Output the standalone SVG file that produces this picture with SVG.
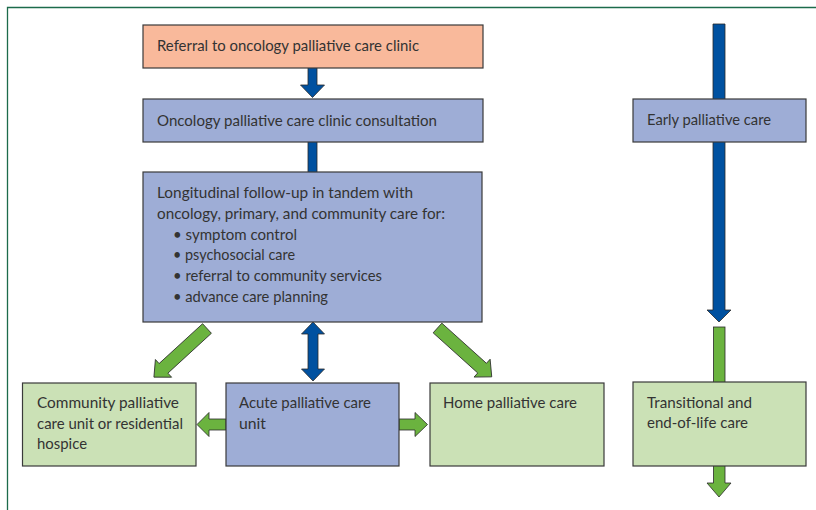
<svg xmlns="http://www.w3.org/2000/svg" width="816" height="510" viewBox="0 0 816 510">
<style>
.box{stroke:#3a3a3a;stroke-width:1.2}
.peach{fill:#F9B99B}
.blue{fill:#9EADD6}
.green{fill:#CBE1B6}
.ab{fill:#0051A0;stroke:#2a2a2a;stroke-width:0.8}
.ag{fill:#6BB33F;stroke:#2a2a2a;stroke-width:0.8}
text{font-family:Lato,"Open Sans","Liberation Sans",sans-serif;font-size:15px;fill:#333333}
</style>
<rect width="816" height="510" fill="#ffffff"/>
<path d="M7.5,510 V7.5 H816" fill="none" stroke="#1C6B4B" stroke-width="1.3"/>
<g id="connectors">
<polygon class="ab" points="308,67 317,67 317,85 324.5,85 312.5,97.5 300.5,85 308,85"/>
<rect class="ab" x="308" y="141" width="9" height="32"/>
<polygon class="ab" points="313,322 324.5,334 318,334 318,369 324.5,369 313,381 301.5,369 308,369 308,334 301.5,334"/>
<polygon class="ag" transform="translate(207,328.5) rotate(137.5)" points="0,-6.5 59,-6.5 59,-12 72,0 59,12 59,6.5 0,6.5"/>
<polygon class="ag" transform="translate(437.5,328) rotate(42)" points="0,-6.5 60,-6.5 60,-12 73,0 60,12 60,6.5 0,6.5"/>
<polygon class="ag" points="226,419 209,419 209,412.5 197,424.5 209,436.5 209,430 226,430"/>
<polygon class="ag" points="399,419 415,419 415,412.5 427.5,424.5 415,436.5 415,430 399,430"/>
<polygon class="ab" points="713,24 725,24 725,310 731,310 719,322 707,310 713,310"/>
<rect class="ag" x="713.5" y="327" width="11.5" height="56"/>
<polygon class="ag" points="713.5,465 725,465 725,483 731,483 719,497 707,483 713.5,483"/>
</g>
<g id="referral">
<rect class="box peach" x="143" y="25" width="340" height="43"/>
<text x="157" y="51" textLength="262" lengthAdjust="spacingAndGlyphs">Referral to oncology palliative care clinic</text>
</g>
<g id="consultation">
<rect class="box blue" x="143" y="99" width="340" height="43"/>
<text x="157" y="126" textLength="280" lengthAdjust="spacingAndGlyphs">Oncology palliative care clinic consultation</text>
</g>
<g id="longitudinal">
<rect class="box blue" x="143" y="172" width="339" height="150"/>
<text x="157" y="198" textLength="256" lengthAdjust="spacingAndGlyphs">Longitudinal follow-up in tandem with</text>
<text x="157" y="219" textLength="288" lengthAdjust="spacingAndGlyphs">oncology, primary, and community care for:</text>
<text x="173" y="240" textLength="124" lengthAdjust="spacingAndGlyphs">• symptom control</text>
<text x="173" y="260" textLength="122" lengthAdjust="spacingAndGlyphs">• psychosocial care</text>
<text x="173" y="281" textLength="209" lengthAdjust="spacingAndGlyphs">• referral to community services</text>
<text x="173" y="302" textLength="155" lengthAdjust="spacingAndGlyphs">• advance care planning</text>
</g>
<g id="community">
<rect class="box green" x="22.5" y="383" width="173.5" height="83"/>
<text x="37" y="408" textLength="142" lengthAdjust="spacingAndGlyphs">Community palliative</text>
<text x="37" y="428.5" textLength="146" lengthAdjust="spacingAndGlyphs">care unit or residential</text>
<text x="37" y="449" textLength="50" lengthAdjust="spacingAndGlyphs">hospice</text>
</g>
<g id="acute">
<rect class="box blue" x="226" y="383" width="173" height="83"/>
<text x="239" y="408" textLength="132" lengthAdjust="spacingAndGlyphs">Acute palliative care</text>
<text x="239" y="428.5" textLength="27" lengthAdjust="spacingAndGlyphs">unit</text>
</g>
<g id="home">
<rect class="box green" x="430" y="383" width="174" height="83"/>
<text x="443" y="408" textLength="134" lengthAdjust="spacingAndGlyphs">Home palliative care</text>
</g>
<g id="early">
<rect class="box blue" x="633" y="99" width="173" height="43"/>
<text x="647" y="125" textLength="124" lengthAdjust="spacingAndGlyphs">Early palliative care</text>
</g>
<g id="transitional">
<rect class="box green" x="633" y="382" width="173" height="84"/>
<text x="647" y="407.5" textLength="105" lengthAdjust="spacingAndGlyphs">Transitional and</text>
<text x="647" y="428" textLength="101" lengthAdjust="spacingAndGlyphs">end-of-life care</text>
</g>
</svg>
